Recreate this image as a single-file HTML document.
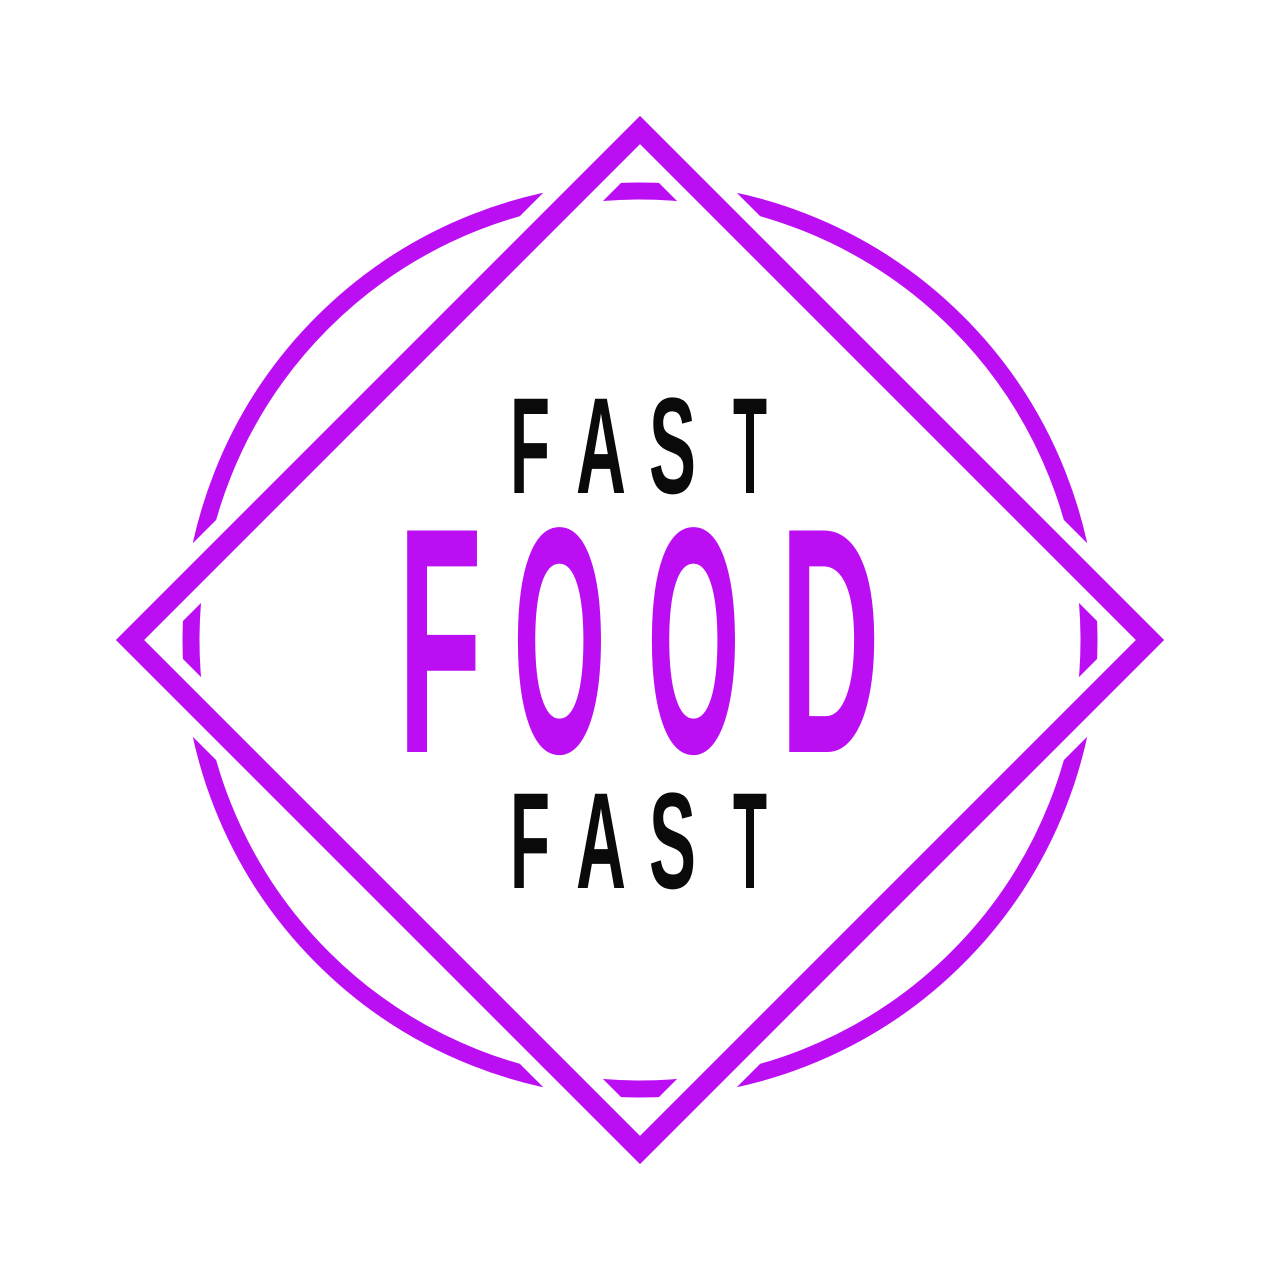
<!DOCTYPE html>
<html><head><meta charset="utf-8"><style>
html,body{margin:0;padding:0;background:#fff;}
svg{display:block;}
</style></head><body>
<svg width="1280" height="1280" viewBox="0 0 1280 1280" xmlns="http://www.w3.org/2000/svg">
<rect width="1280" height="1280" fill="#fff"/>
<circle cx="640" cy="640" r="449" fill="none" stroke="#bb0ef2" stroke-width="17"/>
<polygon points="640,130 1150,640 640,1150 130,640" fill="none" stroke="#fff" stroke-width="48" stroke-linejoin="miter"/>
<polygon points="640,130 1150,640 640,1150 130,640" fill="none" stroke="#bb0ef2" stroke-width="20" stroke-linejoin="miter"/>
<g font-family="'Liberation Sans',sans-serif" font-weight="bold" font-size="137" fill="#0a0a0a">
<text x="510" y="493" textLength="40" lengthAdjust="spacingAndGlyphs">F</text>
<text x="576" y="493" textLength="50" lengthAdjust="spacingAndGlyphs">A</text>
<text x="649" y="493" textLength="47" lengthAdjust="spacingAndGlyphs">S</text>
<text x="733" y="493" textLength="34" lengthAdjust="spacingAndGlyphs">T</text>
</g>
<g font-family="'Liberation Sans',sans-serif" font-weight="bold" font-size="322" fill="#bb0ef2">
<text x="398" y="752" textLength="84" lengthAdjust="spacingAndGlyphs">F</text>
<text x="513" y="752" textLength="93" lengthAdjust="spacingAndGlyphs">O</text>
<text x="647" y="752" textLength="93" lengthAdjust="spacingAndGlyphs">O</text>
<text x="780" y="752" textLength="100" lengthAdjust="spacingAndGlyphs">D</text>
</g>
<g font-family="'Liberation Sans',sans-serif" font-weight="bold" font-size="137" fill="#0a0a0a">
<text x="510" y="888" textLength="40" lengthAdjust="spacingAndGlyphs">F</text>
<text x="576" y="888" textLength="50" lengthAdjust="spacingAndGlyphs">A</text>
<text x="649" y="888" textLength="47" lengthAdjust="spacingAndGlyphs">S</text>
<text x="733" y="888" textLength="34" lengthAdjust="spacingAndGlyphs">T</text>
</g>
</svg>
</body></html>
